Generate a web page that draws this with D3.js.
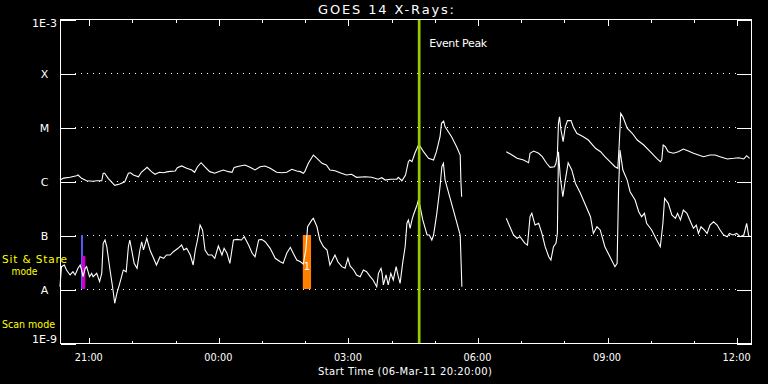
<!DOCTYPE html>
<html><head><meta charset="utf-8">
<script src="https://cdn.jsdelivr.net/npm/d3@7"></script>
<style>
html,body{margin:0;padding:0;background:#000;}
svg{display:block;}
text{font-family:"DejaVu Sans",sans-serif;font-size:10px;fill:#fff;}
</style></head>
<body>
<script>
// ---- data ----
const startTime = "2011-03-06T20:20:00Z";
const endTime = "2011-03-07T12:20:00Z";
const eventPeakMin = 499; // minutes after start
const yTickValues = [1e-9, 1e-8, 1e-7, 1e-6, 1e-5, 1e-4, 1e-3];
const yTickLabels = ["1E-9", "A", "B", "C", "M", "X", "1E-3"];
const gridLevels = [1e-8, 1e-7, 1e-6, 1e-5, 1e-4];

// long channel (1-8 A), minutes after start / flux (W/m^2); null = data gap
const longT = [0,5,14,23,25,30,37,46,51,58,60,62,67,76,83,90,95,98,102,109,113,121,127,132,138,144,150,160,163,169,176,183,187,191,196,201,208,215,220,227,234,239,242,250,257,264,271,278,285,292,301,308,315,322,329,334,338,340,345,352,357,364,370,375,382,391,398,405,412,424,433,442,447,452,459,468,470,475,480,484,486,489,493,498,500,505,512,519,523,528,530,533,535,544,551,556,557,558,
 590,
 620,628,635,644,651,653,658,665,670,676,681,687,689,691,692.5,694,696,699,702,705,710,713,718,727,734,744,751,757,764,771,775,777,779,782,788,795,802,811,820,829,834,836,838,841,845,852,859,866,873,880,887,894,903,910,917,927,936,943,950,954,958];
const longF = [1.04e-6,1.13e-6,1.17e-6,1.25e-6,1.29e-6,1.12e-6,1.01e-6,0.99e-6,1.01e-6,1.01e-6,1.39e-6,1.39e-6,1.12e-6,8.3e-7,8.8e-7,9.7e-7,1.39e-6,1.42e-6,1.29e-6,1.2e-6,1.45e-6,1.79e-6,1.49e-6,1.33e-6,1.45e-6,1.42e-6,1.49e-6,1.53e-6,1.76e-6,1.9e-6,1.72e-6,1.6e-6,1.45e-6,1.84e-6,2.18e-6,1.84e-6,1.49e-6,1.39e-6,1.49e-6,1.6e-6,1.49e-6,1.45e-6,1.79e-6,1.9e-6,1.98e-6,1.79e-6,1.6e-6,1.84e-6,1.9e-6,1.72e-6,1.45e-6,1.42e-6,1.45e-6,1.65e-6,1.53e-6,1.49e-6,1.39e-6,1.49e-6,2.13e-6,3.03e-6,2.63e-6,2.13e-6,1.98e-6,1.6e-6,1.55e-6,1.39e-6,1.29e-6,1.33e-6,1.17e-6,1.2e-6,1.17e-6,1.08e-6,1.15e-6,1.04e-6,1.08e-6,1.08e-6,1.17e-6,1.01e-6,1.29e-6,2.28e-6,2.45e-6,2.28e-6,3.26e-6,4.64e-6,4.45e-6,3.49e-6,2.63e-6,2.45e-6,3.49e-6,6.6e-6,1.17e-5,1.29e-5,1.01e-5,6.6e-6,4.32e-6,3.03e-6,9.7e-7,5.1e-7,
 null,
 3.49e-6,3.03e-6,2.63e-6,2.45e-6,2.18e-6,3.26e-6,3.59e-6,3.26e-6,2.82e-6,2.13e-6,1.79e-6,1.84e-6,2.13e-6,3.03e-6,1.17e-5,1.55e-5,8.8e-6,5.35e-6,1.01e-5,1.31e-5,1.31e-5,1.01e-5,7.65e-6,6.6e-6,5.74e-6,4.03e-6,3.49e-6,2.82e-6,2.28e-6,1.84e-6,1.72e-6,4.99e-6,1.79e-5,1.55e-5,9.5e-6,7.65e-6,5.74e-6,4.64e-6,3.49e-6,2.63e-6,2.28e-6,2.45e-6,4.64e-6,4.32e-6,3.49e-6,3.26e-6,3.49e-6,3.91e-6,3.59e-6,3.26e-6,3.03e-6,2.82e-6,3.03e-6,3.03e-6,2.82e-6,2.56e-6,2.63e-6,2.7e-6,2.56e-6,2.94e-6,2.63e-6];

// short channel (0.5-4 A)
const shortT = [0,2,6,9,14,18,21,25,28,30,32,35,37,39,41,44,46,51,55,58,60,62.5,65,69.5,73,76,79,83,88,92,95,97,100,103,107,111,113.5,116,120.5,125,130,134,139,144,148,153,157.5,164,169,172,176,181,185,188,191,194.6,198,201.5,206,211,215,220,225,228,232,236,241,246,252,256,262,267,271,276,280,285,292,299,306,310,315,320,324,329,334,338,341.5,344,350,352,357,361,366,371,375,382,386,391.5,396,400,403,408,412,417,421.5,426,431,435,440,442.4,446,447.5,449.3,453,456,459.6,463,467,470,472.5,476,479.5,482,484,486.4,489,491,496,498,500.3,504,510,513,516.6,519,523.5,528,530.5,532.7,535,542,549,556,557.3,558.3,
 590,
 620,625,630,635,639,646,649.5,653,655.5,660,665,669.5,674,679,682,685.6,689,691,692.5,695,698.6,702,706,711,716,723,730,737,741,746,750.5,757,764,771,774,776,778,782,788,792,799,804,808,812,815,822,829,834,837.6,840,845,850,855,858,862,866,871,876,880,884,887,890.5,895,899,903,908,913,917,922,927,930,935,940,945,950,954,956.6,958];
const shortF = [1.1e-8,2.59e-8,2.78e-8,2.25e-8,1.82e-8,2.09e-8,1.82e-8,2.42e-8,2.78e-8,2.25e-8,1.69e-8,2.42e-8,2.59e-8,2.09e-8,1.69e-8,1.95e-8,1.69e-8,1.95e-8,1.37e-8,1.95e-8,7.0e-8,8.08e-8,6.07e-8,2.25e-8,1.1e-8,5.44e-9,8.3e-9,1.27e-8,2.25e-8,2.09e-8,6.07e-8,8.08e-8,4.91e-8,2.99e-8,2.42e-8,5.28e-8,7.5e-8,5.28e-8,8.7e-8,5.28e-8,3.7e-8,2.78e-8,3.96e-8,3.7e-8,4.26e-8,4.26e-8,4.91e-8,5.67e-8,6.53e-8,5.28e-8,5.67e-8,4.26e-8,2.78e-8,5.28e-8,8.08e-8,1.53e-7,1.24e-7,5.28e-8,4.26e-8,4.26e-8,3.7e-8,6.26e-8,4.26e-8,5.67e-8,4.58e-8,2.99e-8,8.08e-8,8.3e-8,8.08e-8,9.3e-8,6.53e-8,4.58e-8,3.96e-8,8.08e-8,8.3e-8,7.5e-8,5.67e-8,3.7e-8,3.2e-8,2.99e-8,4.58e-8,5.92e-8,4.58e-8,3.44e-8,3.2e-8,2.9e-8,5.28e-8,1.42e-7,1.9e-7,2.04e-7,1.42e-7,8.08e-8,6.07e-8,5.28e-8,2.78e-8,4.26e-8,3.2e-8,2.59e-8,2.42e-8,3.7e-8,2.67e-8,2.25e-8,1.82e-8,1.69e-8,2.25e-8,2.09e-8,1.69e-8,1.47e-8,1.1e-8,1.95e-8,2.42e-8,1.95e-8,1.19e-8,1.82e-8,1.19e-8,1.95e-8,1.47e-8,2.59e-8,1.69e-8,1.27e-8,2.99e-8,6.07e-8,1.65e-7,1.9e-7,1.33e-7,1.9e-7,2.35e-7,3.59e-7,4.45e-7,3.34e-7,1.9e-7,1e-7,1e-7,8.08e-8,1e-7,2.52e-7,7.85e-7,1.84e-6,2.13e-6,1.04e-6,4.78e-7,2.18e-7,1e-7,2.99e-8,1.1e-8,
 null,
 2.04e-7,1.42e-7,1e-7,8.7e-8,9.3e-8,7.0e-8,6.53e-8,2.18e-7,2.52e-7,1.53e-7,1.65e-7,1.07e-7,6.07e-8,3.96e-8,3.44e-8,6.07e-8,7.0e-8,1.07e-7,3.49e-6,1.2e-6,5.1e-7,1.04e-6,2.18e-6,1.6e-6,9.1e-7,5.92e-7,3.59e-7,2.18e-7,1.07e-7,1.42e-7,1.24e-7,6.07e-8,3.96e-8,2.59e-8,2.99e-8,6.81e-7,3.75e-6,1.6e-6,1.04e-6,6.34e-7,4.45e-7,2.7e-7,2.18e-7,2.52e-7,1.65e-7,1.24e-7,8.08e-8,6.07e-8,1.65e-7,4.78e-7,3.86e-7,2.35e-7,2.04e-7,2.52e-7,1.9e-7,2.9e-7,2.52e-7,1.76e-7,1.33e-7,1.53e-7,1.07e-7,1.42e-7,1.24e-7,1.07e-7,1.53e-7,1.76e-7,1.53e-7,1.24e-7,1e-7,9.3e-8,1.07e-7,1e-7,1.07e-7,9.3e-8,1e-7,1.65e-7,1e-7,9.3e-8];

// observation mode markers: start/end minutes, flux range, colour, label
const markStart = [29.2, 30.6, 337.3];
const markEnd   = [31.9, 35.2, 348.8];
const markLow   = [1e-8, 1e-8, 1e-8];
const markHigh  = [1e-7, 4.1e-8, 1e-7];
const markColor = ["#5a5aff", "#cc00cc", "#ff8000"];
const markLabel = ["", "", "1"];

// ---- chart ----
const W = 768, H = 384;
const m = {l: 60, r: 751, t: 19, b: 343};
const t0 = new Date(startTime), t1 = new Date(endTime);
const tm = mm => new Date(t0.getTime() + mm * 60000);

const svg = d3.select("body").append("svg").attr("width", W).attr("height", H)
  .style("background", "#000");
svg.append("rect").attr("width", W).attr("height", H).attr("fill", "#000");

const x = d3.scaleUtc().domain([t0, t1]).range([m.l, m.r]);
const y = d3.scaleLog().domain([1e-9, 1e-3]).range([m.b, m.t]);

// grid
svg.append("g").selectAll("line").data(gridLevels).join("line")
  .attr("x1", m.l + 15).attr("x2", m.r - 15)
  .attr("y1", d => Math.round(y(d)) + 0.5).attr("y2", d => Math.round(y(d)) + 0.5)
  .attr("stroke", "#fff").attr("stroke-width", 1).attr("stroke-dasharray", "1,5");

// frame
svg.append("rect").attr("x", m.l + 0.5).attr("y", m.t + 0.5)
  .attr("width", m.r - m.l).attr("height", m.b - m.t)
  .attr("fill", "none").attr("stroke", "#fff").attr("stroke-width", 1)
  .attr("shape-rendering", "crispEdges");

// y ticks (left & right, inward)
const yAxisL = d3.axisLeft(y).tickValues(yTickValues).tickSize(-15).tickPadding(0).tickFormat(() => "");
const yAxisR = d3.axisRight(y).tickValues(yTickValues).tickSize(-15).tickFormat(() => "");
const gl = svg.append("g").attr("transform", `translate(${m.l + 0.5},0.5)`).call(yAxisL);
const gr = svg.append("g").attr("transform", `translate(${m.r + 0.5},0.5)`).call(yAxisR);
[gl, gr].forEach(g => {
  g.select(".domain").remove();
  g.selectAll("line").attr("stroke", "#fff").attr("shape-rendering", "crispEdges");
});
svg.append("g").selectAll("text").data(yTickValues).join("text")
  .attr("x", 44.5)
  .attr("y", (d, i) => i === 0 ? y(d) : (i === yTickValues.length - 1 ? y(d) + 8 : y(d) + 5))
  .attr("text-anchor", "middle").style("font-size", "11px")
  .text((d, i) => yTickLabels[i]);

// x ticks
const hours = d3.utcHour.range(t0, t1);
const isMajor = d => d.getUTCHours() % 3 === 0;
const xb = svg.append("g").attr("transform", `translate(0.5,${m.b + 0.5})`)
  .call(d3.axisBottom(x).tickValues(hours).tickSize(0).tickFormat(""));
xb.select(".domain").remove();
const xt = svg.append("g").attr("transform", `translate(0.5,${m.t + 0.5})`)
  .call(d3.axisTop(x).tickValues(hours).tickSize(0).tickFormat(""));
xt.select(".domain").remove();
xb.selectAll(".tick line").attr("y2", d => isMajor(d) ? -6 : -3)
  .attr("stroke", "#fff").attr("shape-rendering", "crispEdges");
xt.selectAll(".tick line").attr("y2", d => isMajor(d) ? 6 : 3)
  .attr("stroke", "#fff").attr("shape-rendering", "crispEdges");
svg.append("g").selectAll("text").data(hours.filter(isMajor)).join("text")
  .attr("x", d => x(d)).attr("y", 361).attr("text-anchor", "middle")
  .attr("textLength", 28).attr("lengthAdjust", "spacingAndGlyphs")
  .text(d3.utcFormat("%H:%M"));

// mode markers
svg.append("g").selectAll("rect").data(markStart).join("rect")
  .attr("x", (d, i) => x(tm(d)))
  .attr("width", (d, i) => x(tm(markEnd[i])) - x(tm(d)))
  .attr("y", (d, i) => y(markHigh[i]))
  .attr("height", (d, i) => y(markLow[i]) - y(markHigh[i]))
  .attr("fill", (d, i) => markColor[i]);

// curves
const line = d3.line()
  .defined(d => d[1] !== null)
  .x(d => x(tm(d[0]))).y(d => y(d[1]));
const longData = longT.map((t, i) => [t, longF[i]]);
const shortData = shortT.map((t, i) => [t, shortF[i]]);
[longData, shortData].forEach(dd => {
  svg.append("path").datum(dd).attr("d", line)
    .attr("fill", "none").attr("stroke", "#fff").attr("stroke-width", 1.1)
    .attr("stroke-linejoin", "miter");
});

svg.append("g").selectAll("text").data(markStart).join("text")
  .attr("x", (d, i) => (x(tm(d)) + x(tm(markEnd[i]))) / 2)
  .attr("y", 270).attr("text-anchor", "middle")
  .text((d, i) => markLabel[i]);

// event peak
const ex = x(tm(eventPeakMin));
svg.append("line").attr("x1", ex).attr("x2", ex).attr("y1", m.t + 1).attr("y2", m.b)
  .attr("stroke", "#99cc00").attr("stroke-width", 2.7);
svg.append("text").attr("x", ex + 10).attr("y", 47)
  .attr("textLength", 58).attr("lengthAdjust", "spacing").style("font-size", "11px")
  .text("Event Peak");

// title & labels
svg.append("text").attr("x", 386).attr("y", 14).attr("text-anchor", "middle")
  .style("font-size", "13px").attr("textLength", 136).attr("lengthAdjust", "spacing")
  .text("GOES 14 X-Rays:");
svg.append("text").attr("x", 405).attr("y", 375).attr("text-anchor", "middle")
  .attr("textLength", 174).attr("lengthAdjust", "spacing")
  .text("Start Time (06-Mar-11 20:20:00)");
const yl = svg.append("g");
yl.append("text").attr("x", 2).attr("y", 263).style("fill", "#ffff00").style("font-size", "10.5px")
  .attr("textLength", 65).attr("lengthAdjust", "spacing").text("Sit & Stare");
yl.append("text").attr("x", 24.5).attr("y", 275).attr("text-anchor", "middle").style("fill", "#ffff00")
  .style("font-size", "10.5px").attr("textLength", 26).attr("lengthAdjust", "spacingAndGlyphs").text("mode");
yl.append("text").attr("x", 2).attr("y", 328).style("fill", "#ffff00").style("font-size", "10.5px")
  .attr("textLength", 53).attr("lengthAdjust", "spacingAndGlyphs").text("Scan mode");
</script>
</body></html>
